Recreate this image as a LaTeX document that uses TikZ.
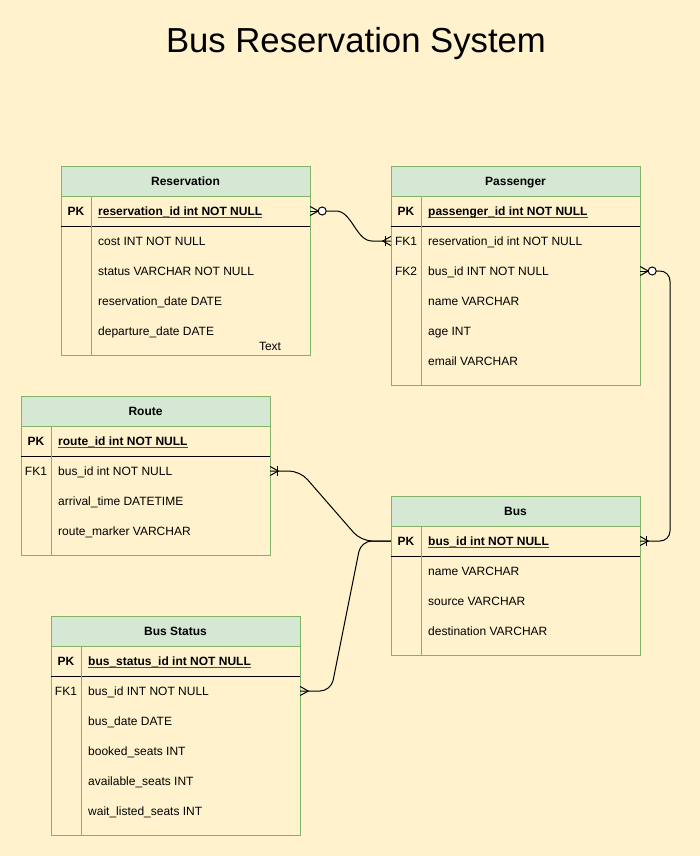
\documentclass[tikz,border=0pt]{standalone}
\usepackage{fontspec}
\setmainfont{Liberation Sans}
\usetikzlibrary{calc}
\definecolor{bg}{HTML}{FFF2CC}
\definecolor{hdr}{HTML}{D5E8D4}
\definecolor{brd}{HTML}{82B366}
\newcommand\myul[1]{\setbox0\hbox{#1}\rlap{\color{black!70}\rule[-2.4pt]{\wd0}{0.7pt}}\box0}
\tikzset{
  tablebox/.style={draw=brd, line width=1pt, minimum width=249pt, inner sep=0pt},
  hdrbox/.style={draw=brd, fill=hdr, line width=1pt, minimum width=249pt, minimum height=30pt, inner sep=0pt, text height=9.3pt, text depth=0.7pt, font=\bfseries\fontsize{12}{14}\selectfont},
  rowbox/.style={minimum width=249pt, minimum height=30pt, inner sep=0pt},
  keytxt/.style={inner sep=0pt, font=\fontsize{12}{14}\selectfont, text height=9.3pt, text depth=0.7pt},
  pktxt/.style={keytxt, font=\bfseries\fontsize{12}{14}\selectfont},
  fld/.style={keytxt, anchor=west},
  pkfld/.style={pktxt, anchor=west},
  divline/.style={draw=brd, line width=1pt},
  pkline/.style={draw=black, line width=1pt},
  conn/.style={draw=black, line width=1pt},
  erc/.style={draw=black, fill=white, line width=1pt}
}
\begin{document}
\begin{tikzpicture}[x=1pt,y=-1pt]
\fill[bg] (0,0) rectangle (700,856);
\useasboundingbox (0,0) rectangle (700,856);

\node[anchor=base, inner sep=0pt, font=\fontsize{34.7}{40}\selectfont] (title) at (356,53) {Bus Reservation System};

% ---------- Reservation ----------
\node[tablebox, minimum height=189pt] (res) at (185.5,260.5) {};
\node[hdrbox] (resH) at (185.5,181) {Reservation};
\node[rowbox] (resPK) at (185.5,211) {};
\draw[pkline] (resPK.south west) -- (resPK.south east);
\draw[divline] (91,196) -- (91,355);
\node[pktxt] (resPKk) at (76,211) {PK};
\node[pkfld] (resPKt) at (98,211) {\myul{reservation\_id int NOT NULL}};
\node[fld] (resR1) at (98,241) {cost INT NOT NULL};
\node[fld] (resR2) at (98,271) {status VARCHAR NOT NULL};
\node[fld] (resR3) at (98,301) {reservation\_date DATE};
\node[fld] (resR4) at (98,331) {departure\_date DATE};
\node[keytxt] (resTxt) at (270,346) {Text};

% ---------- Passenger ----------
\node[tablebox, minimum height=219pt] (pas) at (515.5,275.5) {};
\node[hdrbox] (pasH) at (515.5,181) {Passenger};
\node[rowbox] (pasPK) at (515.5,211) {};
\node[rowbox] (pasFK1) at (515.5,241) {};
\node[rowbox] (pasFK2) at (515.5,271) {};
\draw[pkline] (pasPK.south west) -- (pasPK.south east);
\draw[divline] (421,196) -- (421,385);
\node[pktxt] (pasPKk) at (406,211) {PK};
\node[pkfld] (pasPKt) at (428,211) {\myul{passenger\_id int NOT NULL}};
\node[keytxt] (pasK1) at (406,241) {FK1};
\node[fld] (pasR1) at (428,241) {reservation\_id int NOT NULL};
\node[keytxt] (pasK2) at (406,271) {FK2};
\node[fld] (pasR2) at (428,271) {bus\_id INT NOT NULL};
\node[fld] (pasR3) at (428,301) {name VARCHAR};
\node[fld] (pasR4) at (428,331) {age INT};
\node[fld] (pasR5) at (428,361) {email VARCHAR};

% ---------- Route ----------
\node[tablebox, minimum height=159pt] (rou) at (145.5,475.5) {};
\node[hdrbox] (rouH) at (145.5,411) {Route};
\node[rowbox] (rouPK) at (145.5,441) {};
\node[rowbox] (rouFK1) at (145.5,471) {};
\draw[pkline] (rouPK.south west) -- (rouPK.south east);
\draw[divline] (51,426) -- (51,555);
\node[pktxt] (rouPKk) at (36,441) {PK};
\node[pkfld] (rouPKt) at (58,441) {\myul{route\_id int NOT NULL}};
\node[keytxt] (rouK1) at (36,471) {FK1};
\node[fld] (rouR1) at (58,471) {bus\_id int NOT NULL};
\node[fld] (rouR2) at (58,501) {arrival\_time DATETIME};
\node[fld] (rouR3) at (58,531) {route\_marker VARCHAR};

% ---------- Bus ----------
\node[tablebox, minimum height=159pt] (bus) at (515.5,575.5) {};
\node[hdrbox] (busH) at (515.5,511) {Bus};
\node[rowbox] (busPK) at (515.5,541) {};
\draw[pkline] (busPK.south west) -- (busPK.south east);
\draw[divline] (421,526) -- (421,655);
\node[pktxt] (busPKk) at (406,541) {PK};
\node[pkfld] (busPKt) at (428,541) {\myul{bus\_id int NOT NULL}};
\node[fld] (busR1) at (428,571) {name VARCHAR};
\node[fld] (busR2) at (428,601) {source VARCHAR};
\node[fld] (busR3) at (428,631) {destination VARCHAR};

% ---------- Bus Status ----------
\node[tablebox, minimum height=219pt] (bst) at (175.5,725.5) {};
\node[hdrbox] (bstH) at (175.5,631) {Bus Status};
\node[rowbox] (bstPK) at (175.5,661) {};
\node[rowbox] (bstFK1) at (175.5,691) {};
\draw[pkline] (bstPK.south west) -- (bstPK.south east);
\draw[divline] (81,646) -- (81,835);
\node[pktxt] (bstPKk) at (66,661) {PK};
\node[pkfld] (bstPKt) at (88,661) {\myul{bus\_status\_id int NOT NULL}};
\node[keytxt] (bstK1) at (66,691) {FK1};
\node[fld] (bstR1) at (88,691) {bus\_id INT NOT NULL};
\node[fld] (bstR2) at (88,721) {bus\_date DATE};
\node[fld] (bstR3) at (88,751) {booked\_seats INT};
\node[fld] (bstR4) at (88,781) {available\_seats INT};
\node[fld] (bstR5) at (88,811) {wait\_listed\_seats INT};

% ---------- Connectors ----------
% Reservation PK -> Passenger FK1
\draw[conn] ($(resPK.east)+(0,-4.5)$) -- ($(resPK.east)+(8,0)$) -- ($(resPK.east)+(0,4.5)$);
\draw[conn] (resPK.east) -- ($(resPK.east)+(8,0)$);
\draw[conn] ($(resPK.east)+(16,0)$) -- (336,211) .. controls (352,211) and (356,241) .. (372,241) -- (pasFK1.west);
\draw[erc] ($(resPK.east)+(12,0)$) circle (4);
\draw[conn] ($(pasFK1.west)+(0,-4.5)$) -- ($(pasFK1.west)+(-8,0)$) -- ($(pasFK1.west)+(0,4.5)$);
\draw[conn] ($(pasFK1.west)+(-5,-5)$) -- ($(pasFK1.west)+(-5,5)$);

% Passenger FK2 -> Bus PK
\draw[conn] ($(pasFK2.east)+(0,-4.5)$) -- ($(pasFK2.east)+(8,0)$) -- ($(pasFK2.east)+(0,4.5)$);
\draw[conn] (pasFK2.east) -- ($(pasFK2.east)+(8,0)$);
\draw[conn, rounded corners=10pt] ($(pasFK2.east)+(16,0)$) -- (670,271) -- (670,541) -- (busPK.east);
\draw[erc] ($(pasFK2.east)+(12,0)$) circle (4);
\draw[conn] ($(busPK.east)+(0,-4.5)$) -- ($(busPK.east)+(8,0)$) -- ($(busPK.east)+(0,4.5)$);
\draw[conn] ($(busPK.east)+(6,-5)$) -- ($(busPK.east)+(6,5)$);

% Route FK1 -> Bus PK
\draw[conn, rounded corners=11pt] (rouFK1.east) -- (300,471) -- (361,541) -- (busPK.west);
\draw[conn] ($(rouFK1.east)+(0,-4.5)$) -- ($(rouFK1.east)+(8,0)$) -- ($(rouFK1.east)+(0,4.5)$);
\draw[conn] ($(rouFK1.east)+(7,-5)$) -- ($(rouFK1.east)+(7,5)$);

% Bus Status FK1 -> Bus PK
\draw[conn, rounded corners=11pt] (bstFK1.east) -- (331,691) -- (361,541) -- (busPK.west);
\draw[conn] ($(bstFK1.east)+(0,-4.5)$) -- ($(bstFK1.east)+(8,0)$) -- ($(bstFK1.east)+(0,4.5)$);
\end{tikzpicture}
\end{document}
